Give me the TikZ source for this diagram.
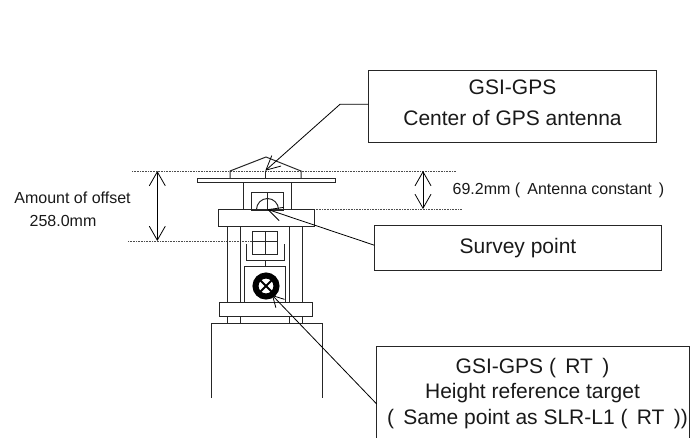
\documentclass[tikz,border=0pt]{standalone}
\usepackage{fontspec}
\setmainfont{Liberation Sans}
\usetikzlibrary{arrows.meta}
\tikzset{
every node/.style={text=black!90},
part/.style={draw=black!85, line width=1pt}, % the instrument itself
guide/.style={draw=black!70, densely dotted, line width=0.6pt}, % height lines
callout/.style={ % Boxes with the long texts
    draw=black!85,
    line width=1pt,
    inner sep=0pt,
    outer sep=0pt
},
big/.style={font=\fontsize{21}{25.7}\selectfont, align=center, inner sep=0pt},
small/.style={font=\fontsize{16}{19}\selectfont, inner sep=0pt},
pointer/.style={draw=black, line width=0.8pt, -{Straight Barb[length=14pt,width=14pt]}},
measure/.style={draw=black, line width=0.8pt, {Straight Barb[length=14pt,width=16pt]}-{Straight Barb[length=14pt,width=16pt]}}
}
\begin{document}
\begin{tikzpicture}[x=1pt,y=-1pt]
    \useasboundingbox (0,0) rectangle (691,437);
    % height lines
    \draw[guide] (132,171) -- (456,171);
    \draw[guide] (290,209) -- (462,209);
    \draw[guide] (128,241) -- (260,241);
    % antenna
    \draw[part] (230,178) -- (230,171) -- (266,157) -- (301,171) -- (301,178);
    \draw[part] (265.5,171) -- (265.5,178);
    \draw[part] (197.5,178.5) rectangle (335.5,182.5);
    \draw[part] (243,182.5) -- (243,210) (291,182.5) -- (291,210);
    \draw[part] (251.5,192.5) rectangle (283.5,210);
    \draw[part] (267.5,192.5) -- (267.5,210);
    \draw[part] (256.5,209.5) arc[start angle=180,end angle=360,radius=11];
    \draw[part] (218.5,209.5) rectangle (314,226.5);
    % column
    \draw[part] (227.5,226.5) -- (227.5,302) (240.5,226.5) -- (240.5,302);
    \draw[part] (289.5,226.5) -- (289.5,302) (302,226.5) -- (302,302);
    \draw[part] (252.5,231.5) rectangle (277.5,254);
    \draw[part] (265,231.5) -- (265,254) (252.5,241.5) -- (277.5,241.5);
    \draw[part] (246,244) -- (246,260) -- (284,260) -- (284,244);
    \draw[part] (265,260) -- (265,266.5);
    \draw[part] (244.5,302) -- (244.5,266.5) -- (285.5,266.5) -- (285.5,302);
    % target
    \draw[black, line width=6pt] (266,286) circle[radius=10.5];
    \draw[black, line width=2pt] (260,280) -- (272,292) (272,280) -- (260,292);
    % base
    \draw[part] (219.5,302) rectangle (312.5,316);
    \draw[part] (227.5,316) -- (227.5,323.5) (240.5,316) -- (240.5,323.5);
    \draw[part] (289.5,316) -- (289.5,323.5) (302,316) -- (302,323.5);
    \draw[part] (211,398) -- (211,323.5) -- (322.5,323.5) -- (322.5,398);
    % boxes
    \node[callout, minimum width=288.4pt, minimum height=71.3pt] (gpsbox) at (512.5,106.6) {};
    \node[callout, minimum width=287.4pt, minimum height=45pt] (surveybox) at (518,248.2) {};
    \node[callout, minimum width=312.6pt, minimum height=114.6pt] (targetbox) at (533,404) {};
    % texts
    \node[big] (gpstext) at (512.5,103) {GSI-GPS\\[5.5pt]Center of GPS antenna};
    \node[big] (surveytext) at (518,248) {Survey point};
    \node[big] (targettext) at (532.5,393.5) {GSI-GPS (\, RT \,)\\Height reference target\\\hspace*{10pt}(\, Same point as SLR-L1 (\, RT \,))};
    \node[small] (offsettext) at (72.5,198) {Amount of offset};
    \node[small] (amounttext) at (63,221) {258.0mm};
    \node[small] (constanttext) at (558.5,190) {69.2mm (\, Antenna constant \,)};
    % pointers
    \coordinate (gpstip) at (265.3,170.7);
    \coordinate (gpsbend) at (340,104.3);
    \coordinate (surveytip) at (267.3,209.3);
    \coordinate (targettip) at (272,295);
    \draw[pointer] (gpsbox.west |- gpsbend) -- (gpsbend) -- (gpstip);
    \draw[pointer] ([yshift=3pt]surveybox.west) -- (surveytip);
    \draw[pointer, -{Straight Barb[length=11pt,width=12pt]}] (targetbox.west) -- (targettip);
    % dimensions
    \coordinate (offsettop) at (157.3,171);
    \coordinate (offsetbottom) at (157.3,241);
    \coordinate (constanttop) at (423,171);
    \coordinate (constantbottom) at (423,209);
    \draw[measure] (offsettop) -- (offsetbottom);
    \draw[measure] (constanttop) -- (constantbottom);
\end{tikzpicture}
\end{document}
